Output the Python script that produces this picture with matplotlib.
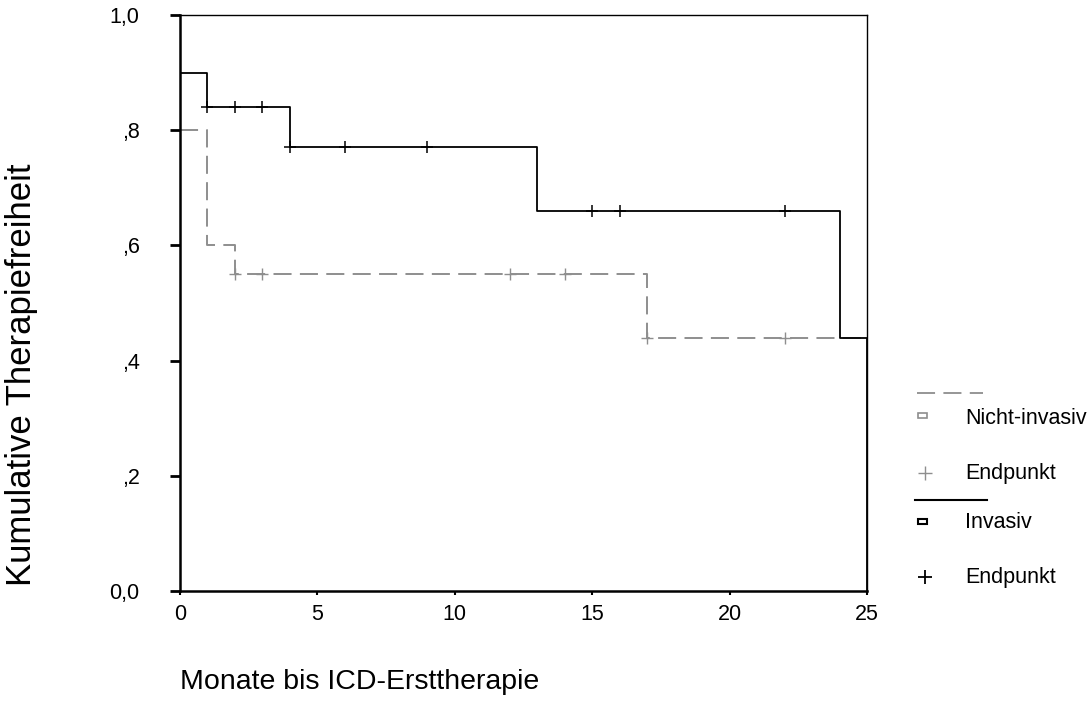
import matplotlib
matplotlib.use("Agg")
import matplotlib.pyplot as plt
from matplotlib.lines import Line2D
from matplotlib.patches import Rectangle

plt.rcParams['font.family'] = ['Liberation Sans', 'DejaVu Sans']
plt.rcParams['lines.scale_dashes'] = False

# Kaplan-Meier Stufen (Zeit in Monaten, kumulative Therapiefreiheit)
inv_t = [0, 1, 4, 13, 24, 25, 25]
inv_s = [0.90, 0.84, 0.77, 0.66, 0.44, 0.44, 0.0]
inv_cens_t = [1, 2, 3, 4, 6, 9, 15, 16, 22]
inv_cens_s = [0.84, 0.84, 0.84, 0.77, 0.77, 0.77, 0.66, 0.66, 0.66]

non_t = [0, 1, 2, 17, 25]
non_s = [0.80, 0.60, 0.55, 0.44, 0.44]
non_cens_t = [2, 3, 12, 14, 17, 22]
non_cens_s = [0.55, 0.55, 0.55, 0.55, 0.44, 0.44]

xticks = [0, 5, 10, 15, 20, 25]
yticks = [0.0, 0.2, 0.4, 0.6, 0.8, 1.0]
ytick_labels = ['0,0', ',2', ',4', ',6', ',8', '1,0']

grey = '#8e8e8e'

fig = plt.figure(figsize=(10.91, 7.02), dpi=100)
ax = fig.add_axes([180 / 1091, 111 / 702, 687 / 1091, 576 / 702])

ax.step(non_t, non_s, where='post', color=grey, lw=1.4, dashes=(13, 6))
ax.plot(non_cens_t, non_cens_s, ls='none', marker='+', ms=9, mew=1.0, color=grey)
ax.step(inv_t, inv_s, where='post', color='black', lw=1.3)
ax.plot(inv_cens_t, inv_cens_s, ls='none', marker='+', ms=9, mew=1.1, color='black')

ax.set_xlim(0, 25)
ax.set_ylim(0, 1)
ax.set_xticks(xticks)
ax.set_xticklabels([str(x) for x in xticks])
ax.set_yticks(yticks)
ax.set_yticklabels(ytick_labels)
ax.tick_params(axis='both', labelsize=15.5, direction='out', color='black')
ax.tick_params(axis='y', length=7, width=2, pad=22)
ax.tick_params(axis='x', length=3, width=1.5, pad=6)

for side in ['top', 'right']:
    ax.spines[side].set_linewidth(1.0)
for side in ['left', 'bottom']:
    ax.spines[side].set_linewidth(1.8)

fig.text(22 / 1091, 1 - 375 / 702, 'Kumulative Therapiefreiheit', rotation=90,
         ha='center', va='center', fontsize=25)
fig.text(180 / 1091, 1 - 682 / 702, 'Monate bis ICD-Ersttherapie',
         ha='left', va='center', fontsize=20.5)

# Legende
W, H = 1091, 702


def fx(x):
    return x / W


def fy(y):
    return 1 - y / H


fig.add_artist(Line2D([fx(917), fx(983)], [fy(393), fy(393)], color=grey, lw=1.3,
                      dashes=(13, 6)))
fig.add_artist(Rectangle((fx(918), fy(418)), 9 / W, 5 / H, fill=False, ec=grey, lw=1.2))
fig.text(fx(965), fy(418), 'Nicht-invasiv', fontsize=15.5, va='center', ha='left')
fig.add_artist(Line2D([fx(925)], [fy(473)], marker='+', ms=10, mew=1.0, color=grey))
fig.text(fx(965), fy(473), 'Endpunkt', fontsize=15.5, va='center', ha='left')
fig.add_artist(Line2D([fx(915), fx(987)], [fy(500), fy(500)], color='black', lw=1.5))
fig.add_artist(Rectangle((fx(918), fy(524)), 9 / W, 5 / H, fill=False, ec='black', lw=1.5))
fig.text(fx(965), fy(523), 'Invasiv', fontsize=15.5, va='center', ha='left')
fig.add_artist(Line2D([fx(925)], [fy(577)], marker='+', ms=10, mew=1.3, color='black'))
fig.text(fx(965), fy(578), 'Endpunkt', fontsize=15.5, va='center', ha='left')

fig.savefig('out.png', dpi=100, facecolor='white')
